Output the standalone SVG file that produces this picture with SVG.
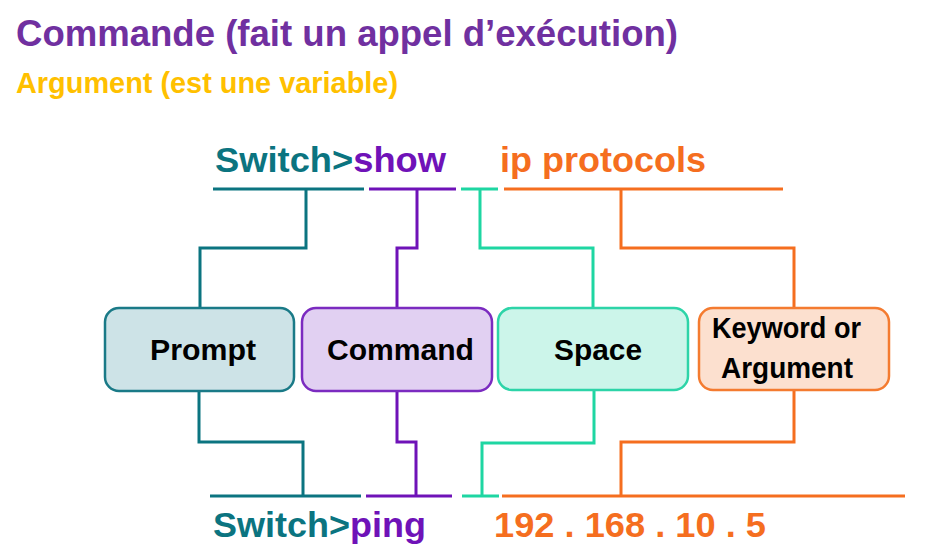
<svg xmlns="http://www.w3.org/2000/svg" width="947" height="554" viewBox="0 0 947 554">
<style>
text{font-family:"Liberation Sans",Arial,sans-serif;font-weight:bold}
.c{fill:none;stroke-width:3;stroke-linejoin:miter;stroke-linecap:butt}
.teal{stroke:#0B7480}.purple{stroke:#6F12B8}.green{stroke:#1ED6A2}.orange{stroke:#F56E1F}
.lbl{font-size:29px;fill:#000}
.box{stroke-width:2.5}
</style>
<rect width="947" height="554" fill="#fff"/>
<g id="titles">
<text x="16" y="46" font-size="36" fill="#7030A0" textLength="662" lengthAdjust="spacingAndGlyphs">Commande (fait un appel d’exécution)</text>
<text x="16" y="93" font-size="29" fill="#FFC000" textLength="382" lengthAdjust="spacingAndGlyphs">Argument (est une variable)</text>
</g>
<g id="top-command">
<text x="215" y="172" font-size="35" textLength="231" lengthAdjust="spacingAndGlyphs"><tspan fill="#0B7480">Switch&gt;</tspan><tspan fill="#6F12B8">show</tspan></text>
<text x="500" y="172" font-size="35" fill="#F56E1F" textLength="206" lengthAdjust="spacingAndGlyphs">ip protocols</text>
</g>
<g id="bottom-command">
<text x="213" y="537" font-size="35" textLength="213" lengthAdjust="spacingAndGlyphs"><tspan fill="#0B7480">Switch&gt;</tspan><tspan fill="#6F12B8">ping</tspan></text>
<text x="494" y="537" font-size="35" fill="#F56E1F" textLength="272" lengthAdjust="spacingAndGlyphs">192 . 168 . 10 . 5</text>
</g>
<g id="connectors">
<line class="c teal" x1="213" y1="189" x2="364" y2="189"/>
<line class="c purple" x1="369" y1="189" x2="456" y2="189"/>
<line class="c green" x1="461" y1="189" x2="498" y2="189"/>
<line class="c orange" x1="504" y1="189" x2="783" y2="189"/>
<polyline class="c teal" points="306,189 306,248 200,248 200,308"/>
<polyline class="c purple" points="417,189 417,248 397,248 397,308"/>
<polyline class="c green" points="480,189 480,248 593,248 593,308"/>
<polyline class="c orange" points="621,189 621,248 794,248 794,308"/>
<line class="c teal" x1="210" y1="496" x2="361" y2="496"/>
<line class="c purple" x1="366" y1="496" x2="452" y2="496"/>
<line class="c green" x1="462" y1="496" x2="499" y2="496"/>
<line class="c orange" x1="502" y1="496" x2="905" y2="496"/>
<polyline class="c teal" points="199,391 199,442 303,442 303,496"/>
<polyline class="c purple" points="397,391 397,442 416,442 416,496"/>
<polyline class="c green" points="594,390 594,443 482,443 482,496"/>
<polyline class="c orange" points="794,390 794,442 621,442 621,496"/>
</g>
<g id="prompt">
<rect class="box" x="105" y="308" width="189" height="83" rx="14" fill="#CDE3E7" stroke="#1A7A87"/>
<text class="lbl" x="150" y="360" textLength="106" lengthAdjust="spacingAndGlyphs">Prompt</text>
</g>
<g id="command">
<rect class="box" x="302" y="308" width="190" height="83" rx="14" fill="#E1D0F2" stroke="#7B2BC0"/>
<text class="lbl" x="327" y="360" textLength="147" lengthAdjust="spacingAndGlyphs">Command</text>
</g>
<g id="space">
<rect class="box" x="498" y="308" width="190" height="82" rx="14" fill="#CCF5EA" stroke="#2DD4A8"/>
<text class="lbl" x="554" y="360" textLength="88" lengthAdjust="spacingAndGlyphs">Space</text>
</g>
<g id="keyword">
<rect class="box" x="699" y="308" width="190" height="82" rx="14" fill="#FCE0CF" stroke="#F47B30"/>
<text class="lbl" x="712" y="338" textLength="149" lengthAdjust="spacingAndGlyphs">Keyword or</text>
<text class="lbl" x="721" y="378" textLength="132" lengthAdjust="spacingAndGlyphs">Argument</text>
</g>
</svg>
